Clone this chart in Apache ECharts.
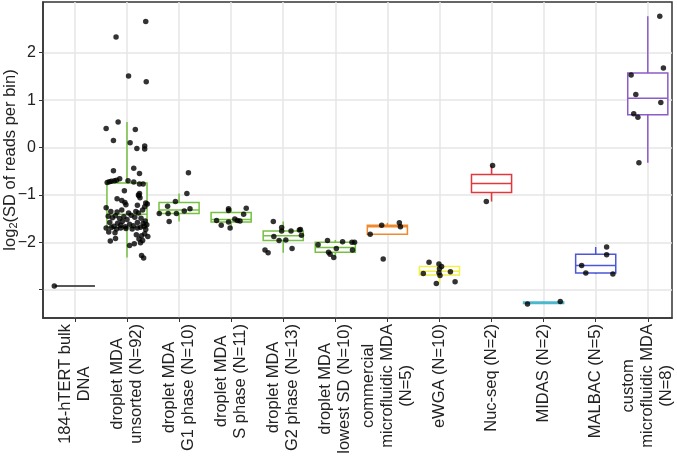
<!DOCTYPE html>
<html><head><meta charset="utf-8">
<script src="https://cdn.jsdelivr.net/npm/echarts@6/dist/echarts.min.js"></script>
<style>html,body{margin:0;padding:0;background:#fff}#c{width:677px;height:458px}</style>
</head><body><div id="c"></div>
<script>
const categories = [
  '184-hTERT bulk\nDNA',
  'droplet MDA\nunsorted (N=92)',
  'droplet MDA\nG1 phase (N=10)',
  'droplet MDA\nS phase (N=11)',
  'droplet MDA\nG2 phase (N=13)',
  'droplet MDA\nlowest SD (N=10)',
  'commercial\nmicrofluidic MDA\n(N=5)',
  'eWGA (N=10)',
  'Nuc-seq (N=2)',
  'MIDAS (N=2)',
  'MALBAC (N=5)',
  'custom\nmicrofluidic MDA\n(N=8)'
];
const yTicks = [-3, -2, -1, 0, 1, 2];
const yTickLabels = ['', '\u22122', '\u22121', '0', '1', '2'];

// box statistics per category
const boxMin = [-2.92, -2.32, -1.56, -1.70, -2.22, -2.32, -1.83, -2.87, -1.14, -3.30, -2.67, -0.32];
const boxQ1  = [-2.92, -1.69, -1.39, -1.57, -1.96, -2.21, -1.83, -2.69, -0.95, -3.29, -2.65,  0.69];
const boxMed = [-2.92, -1.41, -1.32, -1.52, -1.86, -2.11, -1.67, -2.61, -0.76, -3.275, -2.49, 1.04];
const boxQ3  = [-2.92, -0.75, -1.16, -1.37, -1.76, -2.00, -1.64, -2.51, -0.57, -3.26, -2.25,  1.57];
const boxMax = [-2.92,  0.54, -0.97, -1.28, -1.56, -1.95, -1.59, -2.42, -0.38, -3.25, -2.10,  2.77];
const boxColors = ['#4d4d4d', '#76C043', '#76C043', '#76C043', '#76C043', '#76C043',
                   '#EE8A2E', '#F2F04A', '#E0383C', '#4CB8CB', '#4B57D6', '#8C5CC9'];

// jittered points: [jitter offset, value]
const ptsBulk = [[-0.395, -2.92]];
const ptsUnsorted = [
  [0.36,2.66],[-0.21,2.33],[0.03,1.51],[0.37,1.39],[-0.17,0.54],[-0.40,0.40],[0.16,0.38],[-0.26,0.15],
  [0.06,0.10],[0.19,-0.02],[0.34,0.03],[0.34,-0.03],[-0.26,-0.49],[0.13,-0.44],[0.24,-0.55],
  [-0.38,-0.74],[-0.34,-0.72],[-0.30,-0.71],[-0.24,-0.70],[-0.20,-0.69],[-0.14,-0.66],[0.02,-0.70],[0.13,-0.73],
  [0.24,-0.77],[0.31,-0.77],[-0.05,-0.91],[0.24,-0.97],[0.23,-1.02],[0.25,-1.06],[0.22,-1.00],[-0.19,-1.08],
  [-0.10,-1.12],[-0.04,-1.16],[-0.02,-1.21],[0.20,-1.22],[0.36,-1.17],[0.39,-1.19],[-0.40,-1.27],[-0.31,-1.35],
  [-0.19,-1.36],[-0.10,-1.32],[0.03,-1.38],[0.17,-1.35],[0.30,-1.32],[0.22,-1.38],[0.34,-1.25],
  [-0.36,-1.45],[-0.28,-1.48],[-0.22,-1.44],[-0.14,-1.50],[-0.06,-1.46],[0.00,-1.52],[0.08,-1.43],[0.15,-1.47],
  [0.27,-1.49],[0.35,-1.55],[-0.33,-1.58],[-0.18,-1.60],[-0.09,-1.56],[0.05,-1.62],[0.20,-1.58],[0.31,-1.60],
  [0.38,-1.63],[-0.25,-1.66],[-0.12,-1.64],[-0.03,-1.67],[0.12,-1.65],[0.26,-1.68],[0.33,-1.66],
  [-0.40,-1.70],[-0.30,-1.69],[-0.20,-1.72],[-0.12,-1.70],[-0.02,-1.71],[0.10,-1.72],[0.20,-1.70],[0.36,-1.73],
  [-0.35,-1.78],[-0.23,-1.80],[0.18,-1.84],[0.28,-1.86],[0.34,-1.82],[0.40,-1.88],[0.23,-1.93],[0.30,-1.96],
  [-0.22,-1.92],[-0.32,-1.97],[0.05,-2.07],[0.14,-2.03],[0.26,-2.01],[0.28,-2.28],[0.32,-2.33]
];
const ptsG1 = [[0.18,-0.53],[0.15,-0.97],[-0.07,-1.14],[-0.22,-1.24],[0.21,-1.29],[0.10,-1.34],
  [-0.38,-1.39],[-0.21,-1.39],[-0.05,-1.39],[-0.19,-1.56]];
const ptsS = [[-0.05,-1.29],[-0.05,-1.33],[0.29,-1.28],[0.24,-1.41],[-0.28,-1.54],[-0.19,-1.64],
  [-0.05,-1.57],[-0.02,-1.70],[0.07,-1.51],[0.12,-1.54],[0.17,-1.55]];
const ptsG2 = [[-0.19,-1.56],[-0.03,-1.69],[-0.03,-1.76],[0.15,-1.76],[0.31,-1.74],[0.33,-1.73],
  [0.35,-1.85],[-0.18,-1.88],[-0.08,-1.96],[0.05,-1.95],[-0.35,-2.16],[-0.29,-2.22],[0.17,-2.13]];
const ptsLowest = [[-0.33,-2.05],[-0.15,-1.96],[0.14,-1.99],[0.32,-2.00],[0.37,-2.00],[0.02,-2.13],
  [-0.13,-2.21],[-0.10,-2.25],[-0.03,-2.32],[0.33,-2.16]];
const ptsCommercial = [[-0.33,-1.83],[-0.11,-1.64],[0.23,-1.59],[0.25,-1.67],[-0.08,-2.35]];
const ptsEWGA = [[-0.20,-2.42],[-0.01,-2.46],[0.04,-2.51],[0.00,-2.56],[-0.31,-2.66],[-0.01,-2.64],
  [0.01,-2.70],[0.21,-2.62],[0.30,-2.83],[-0.06,-2.87]];
const ptsNuc = [[0.02,-0.38],[-0.10,-1.14]];
const ptsMIDAS = [[-0.31,-3.30],[0.32,-3.25]];
const ptsMALBAC = [[0.21,-2.10],[0.21,-2.26],[-0.27,-2.49],[-0.19,-2.65],[0.33,-2.67]];
const ptsCustom = [[0.23,2.77],[0.30,1.68],[-0.32,1.53],[-0.23,1.12],[0.25,0.95],[-0.27,0.71],[-0.19,0.64],[-0.17,-0.32]];

const pointGroups = [ptsBulk, ptsUnsorted, ptsG1, ptsS, ptsG2, ptsLowest, ptsCommercial, ptsEWGA, ptsNuc, ptsMIDAS, ptsMALBAC, ptsCustom];

const scatterData = [];
pointGroups.forEach((g, i) => g.forEach(p => scatterData.push([i + p[0], p[1]])));
const boxData = categories.map((c, i) => [i, boxMin[i], boxQ1[i], boxMed[i], boxQ3[i], boxMax[i]]);
const catIdx = categories.map((c, i) => i);

const FONT = 'Liberation Sans, Arial, Helvetica, sans-serif';
const chart = echarts.init(document.getElementById('c'), null, {renderer: 'canvas'});
const boxHalf = 0.385;

chart.setOption({
  animation: false,
  backgroundColor: '#fff',
  grid: {
    left: 43, right: 5, top: 2, bottom: 140,
    containLabel: false, outerBoundsMode: 'none',
    show: true, borderColor: '#333', borderWidth: 1.5, backgroundColor: 'transparent'
  },
  xAxis: {
    type: 'value', min: -0.6125, max: 11.465,
    axisLine: {show: true, onZero: false, lineStyle: {color: '#333', width: 1.5}},
    axisTick: {show: true, length: 4, customValues: catIdx, lineStyle: {color: '#333', width: 1}},
    splitLine: {show: true, lineStyle: {color: '#E6E6E6', width: 1.5}},
    axisLabel: {
      customValues: catIdx, rotate: 90, margin: 6, interval: 0,
      fontFamily: FONT, fontSize: 16.5, color: '#222', lineHeight: 19,
      formatter: function (v) {
        const name = categories[Math.round(v)] || '';
        return name.split('\n').map(l => '{c|' + l + '}').join('\n');
      },
      rich: {c: {align: 'center', fontFamily: FONT, fontSize: 16.5, color: '#222', lineHeight: 19}}
    }
  },
  yAxis: {
    type: 'value', min: -3.597, max: 3.07,
    name: 'log{s|2}(SD of reads per bin)', nameLocation: 'middle', nameGap: 24, nameRotate: 90,
    nameMoveOverlap: false,
    nameTextStyle: {fontFamily: FONT, fontSize: 16.5, color: '#222',
      rich: {s: {fontFamily: FONT, fontSize: 11, color: '#222', verticalAlign: 'bottom', padding: [7, 0, 0, 0]}}},
    axisLine: {show: true, onZero: false, lineStyle: {color: '#333', width: 1.5}},
    axisTick: {show: true, length: 4, customValues: yTicks, lineStyle: {color: '#333', width: 1}},
    splitLine: {show: true, lineStyle: {color: '#E6E6E6', width: 1.5}},
    axisLabel: {
      customValues: yTicks, margin: 7, fontFamily: FONT, fontSize: 16, color: '#222',
      formatter: function (v) { const k = yTicks.indexOf(Math.round(v)); return k >= 0 ? yTickLabels[k] : ''; }
    }
  },
  series: [
    {
      type: 'custom',
      data: boxData,
      encode: {x: 0, y: [1, 2, 3, 4, 5]},
      z: 2,
      renderItem: function (params, api) {
        const i = api.value(0);
        const mn = api.value(1), q1 = api.value(2), md = api.value(3), q3 = api.value(4), mx = api.value(5);
        const col = boxColors[params.dataIndex];
        const tl = api.coord([i - boxHalf, q3]);
        const br = api.coord([i + boxHalf, q1]);
        const cm = api.coord([i, md]);
        const yMax = api.coord([i, mx])[1], yMin = api.coord([i, mn])[1];
        const st = {stroke: col, lineWidth: 1.5, fill: null};
        return {
          type: 'group',
          children: [
            {type: 'line', shape: {x1: cm[0], y1: tl[1], x2: cm[0], y2: yMax}, style: st},
            {type: 'line', shape: {x1: cm[0], y1: br[1], x2: cm[0], y2: yMin}, style: st},
            {type: 'rect', shape: {x: tl[0], y: tl[1], width: br[0] - tl[0], height: br[1] - tl[1]},
             style: {stroke: col, lineWidth: 1.5, fill: '#fff'}},
            {type: 'line', shape: {x1: tl[0], y1: cm[1], x2: br[0], y2: cm[1]}, style: st}
          ]
        };
      }
    },
    {
      type: 'scatter',
      data: scatterData,
      symbolSize: 5.5,
      z: 3,
      itemStyle: {color: '#000'}
    }
  ]
});
</script>
</body></html>
